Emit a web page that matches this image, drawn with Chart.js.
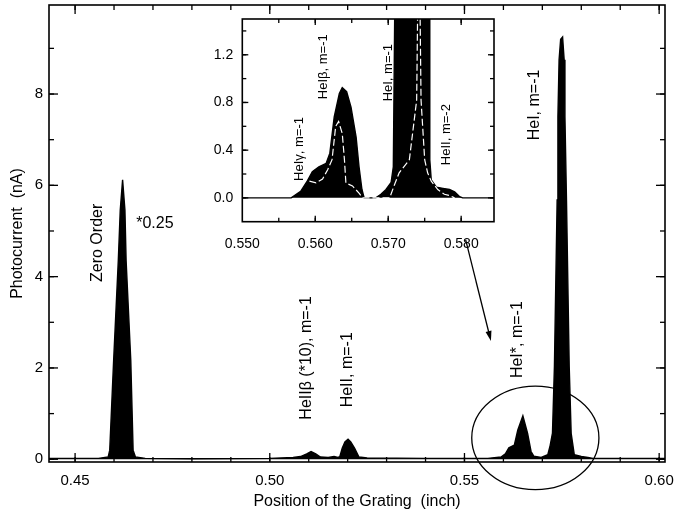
<!DOCTYPE html>
<html>
<head>
<meta charset="utf-8">
<script src="https://cdn.jsdelivr.net/npm/chart.js@4.4.1/dist/chart.umd.min.js"></script>
<style>
  html, body { margin: 0; padding: 0; background: #fff; }
  #wrap { position: relative; width: 681px; height: 518px; }
  #main { position: absolute; left: 0; top: 0; }
  #inset { position: absolute; left: 200px; top: 14px; }
</style>
</head>
<body>
<div id="wrap">
  <canvas id="main" width="681" height="518"></canvas>
  <canvas id="inset" width="300" height="250"></canvas>
</div>
<script>
// main spectrum: grating position (inch) vs photocurrent (nA)
const gratingPos = [0.4433, 0.4500, 0.4560, 0.4585, 0.4589, 0.4599, 0.4611, 0.4616, 0.4622, 0.4628,
  0.4631, 0.4643, 0.4649, 0.4655, 0.4680, 0.4800, 0.5000, 0.5060, 0.5079, 0.5095,
  0.5106, 0.5118, 0.5130, 0.5150, 0.5165, 0.5175, 0.5180, 0.5186, 0.5193, 0.5201,
  0.5208, 0.5218, 0.5229, 0.5250, 0.5400, 0.5560, 0.5594, 0.5605, 0.5614, 0.5628,
  0.5637, 0.5650, 0.5662, 0.5671, 0.5678, 0.5697, 0.5714, 0.5720, 0.5726, 0.5731,
  0.5738, 0.5740, 0.5743, 0.5747, 0.5752, 0.5756, 0.5758, 0.5762, 0.5769, 0.5774,
  0.5782, 0.5800, 0.5817, 0.5830, 0.6015];
const photocurrent = [0.02, 0.02, 0.02, 0.05, 0.2, 2.17, 4.36, 5.46, 6.12, 5.46,
  4.36, 2.17, 0.2, 0.05, 0.02, 0.01, 0.02, 0.04, 0.06, 0.12,
  0.17, 0.12, 0.05, 0.04, 0.06, 0.04, 0.06, 0.24, 0.38, 0.44,
  0.38, 0.24, 0.05, 0.03, 0.02, 0.02, 0.05, 0.12, 0.25, 0.31,
  0.64, 0.95, 0.57, 0.17, 0.07, 0.04, 0.1, 0.3, 0.57, 2.03,
  5.68, 7.51, 8.75, 9.2, 9.25, 8.75, 7.51, 5.68, 2.03, 0.57,
  0.1, 0.06, 0.04, 0.02, 0.02];

// inset: filled trace and the white trace drawn over it
const insetPos = [0.5500, 0.5567, 0.5580, 0.5589, 0.5596, 0.5605, 0.5615, 0.5620, 0.5626, 0.5633,
  0.5637, 0.5643, 0.5649, 0.5656, 0.5660, 0.5664, 0.5667, 0.5683, 0.5690, 0.5697,
  0.5704, 0.5707, 0.5709, 0.5711, 0.5733, 0.5754, 0.5756, 0.5757, 0.5759, 0.5766,
  0.5775, 0.5784, 0.5791, 0.5798, 0.5802, 0.5845];
const insetSignal = [0, 0, 0.055, 0.14, 0.22, 0.26, 0.29, 0.375, 0.68, 0.875,
  0.925, 0.89, 0.76, 0.51, 0.26, 0.07, 0, 0, 0.03, 0.07,
  0.13, 0.26, 1.6, 5.0, 9.25, 5.0, 1.6, 0.32, 0.15, 0.09,
  0.08, 0.07, 0.05, 0.01, 0, 0];
const whitePos = [0.5592, 0.5601, 0.5610, 0.5617, 0.5623, 0.5628, 0.5632, 0.5637, 0.5640, 0.5642,
  0.5651, 0.5660, 0.5665, 0.5702, 0.5708, 0.5715, 0.5729, 0.5739, 0.5742, 0.5745,
  0.5750, 0.5754, 0.5759, 0.5768, 0.5777, 0.5784, 0.5791];
const whiteSignal = [0.14, 0.125, 0.158, 0.236, 0.32, 0.6, 0.64, 0.54, 0.32, 0.125,
  0.1, 0.04, 0, 0, 0.1, 0.21, 0.32, 0.82, 2.5, 0.82,
  0.32, 0.21, 0.14, 0.07, 0.03, 0.02, 0];

const mainXTicks = [0.45, 0.50, 0.55, 0.60];
const mainYTicks = [0, 2, 4, 6, 8];
const insetXTicks = [0.550, 0.560, 0.570, 0.580];
const insetYTicks = [0.0, 0.4, 0.8, 1.2];

const FONT = '"Liberation Sans", Arial, Helvetica, sans-serif';

function pairs(xs, ys) {
  return xs.map((x, i) => ({ x: x, y: ys[i] }));
}

function steps(from, to, step) {
  const out = [];
  const n = Math.round((to - from) / step);
  for (let i = 0; i <= n; i++) out.push(+(from + i * step).toFixed(6));
  return out;
}

// frame around the plot and inward ticks on all four sides
const frameTicks = {
  id: 'frameTicks',
  afterDraw(chart, args, o) {
    const { ctx, chartArea: a, scales: { x, y } } = chart;
    ctx.save();
    ctx.strokeStyle = '#000';
    ctx.lineWidth = 1.3;
    const seg = (x1, y1, x2, y2) => { ctx.beginPath(); ctx.moveTo(x1, y1); ctx.lineTo(x2, y2); ctx.stroke(); };
    const tx = (v, len) => {
      const p = x.getPixelForValue(v);
      if (p < a.left + 1 || p > a.right - 1) return;
      seg(p, a.bottom, p, a.bottom - len);
      seg(p, a.top, p, a.top + len);
    };
    const ty = (v, len) => {
      const p = y.getPixelForValue(v);
      if (p < a.top + 1 || p > a.bottom - 1) return;
      seg(a.left, p, a.left + len, p);
      seg(a.right, p, a.right - len, p);
    };
    o.xMinor.forEach(v => tx(v, o.minor));
    o.yMinor.forEach(v => ty(v, o.minor));
    o.xMajor.forEach(v => tx(v, o.major));
    o.yMajor.forEach(v => ty(v, o.major));
    ctx.lineWidth = 1.6;
    ctx.strokeRect(a.left, a.top, a.right - a.left, a.bottom - a.top);
    ctx.restore();
  }
};

// peak labels, placed in data coordinates
const notes = {
  id: 'notes',
  afterDraw(chart, args, o) {
    const { ctx, scales: { x, y } } = chart;
    ctx.save();
    ctx.fillStyle = '#000';
    ctx.font = o.size + 'px ' + FONT;
    ctx.textAlign = 'center';
    ctx.textBaseline = 'middle';
    o.items.forEach(n => {
      ctx.save();
      ctx.translate(x.getPixelForValue(n.x), y.getPixelForValue(n.y));
      if (n.rot) ctx.rotate(-Math.PI / 2);
      ctx.fillText(n.text, 0, 0);
      ctx.restore();
    });
    ctx.restore();
  }
};

// ellipse round the HeI* / HeI peaks and the arrow from the inset
const marks = {
  id: 'marks',
  afterDraw(chart, args, o) {
    const { ctx, scales: { x, y } } = chart;
    if (!o.ellipse) return;
    ctx.save();
    ctx.strokeStyle = '#000';
    ctx.fillStyle = '#000';
    ctx.lineWidth = 1.3;
    const e = o.ellipse;
    const cx = x.getPixelForValue(e.x), cy = y.getPixelForValue(e.y);
    const rx = Math.abs(x.getPixelForValue(e.x + e.rx) - cx);
    const ry = Math.abs(y.getPixelForValue(e.y + e.ry) - cy);
    ctx.beginPath();
    ctx.ellipse(cx, cy, rx, ry, 0, 0, Math.PI * 2);
    ctx.stroke();

    const ar = o.arrow;
    const x1 = x.getPixelForValue(ar.x1), y1 = y.getPixelForValue(ar.y1);
    const x2 = x.getPixelForValue(ar.x2), y2 = y.getPixelForValue(ar.y2);
    const ang = Math.atan2(y2 - y1, x2 - x1);
    ctx.beginPath();
    ctx.moveTo(x1, y1);
    ctx.lineTo(x2 - 8 * Math.cos(ang), y2 - 8 * Math.sin(ang));
    ctx.stroke();
    ctx.beginPath();
    ctx.moveTo(x2, y2);
    ctx.lineTo(x2 - 10 * Math.cos(ang) + 3 * Math.sin(ang), y2 - 10 * Math.sin(ang) - 3 * Math.cos(ang));
    ctx.lineTo(x2 - 10 * Math.cos(ang) - 3 * Math.sin(ang), y2 - 10 * Math.sin(ang) + 3 * Math.cos(ang));
    ctx.closePath();
    ctx.fill();
    ctx.restore();
  }
};

function axis(opts) {
  const s = {
    type: 'linear',
    min: opts.min,
    max: opts.max,
    grid: { display: false, drawTicks: false },
    border: { display: false },
    afterBuildTicks: sc => { sc.ticks = opts.ticks.map(v => ({ value: v })); },
    afterFit: sc => {
      if (opts.height) sc.height = opts.height;
      if (opts.width) sc.width = opts.width;
      // keep the plot area where the frame sits, whatever the label sizes
      sc.paddingTop = 0; sc.paddingBottom = 0; sc.paddingLeft = 0; sc.paddingRight = 0;
    },
    ticks: {
      padding: opts.pad,
      color: '#000',
      autoSkip: false,
      maxRotation: 0,
      font: { family: FONT, size: opts.size },
      callback: v => v.toFixed(opts.digits)
    }
  };
  if (opts.title) {
    s.title = {
      display: true,
      text: opts.title,
      color: '#000',
      font: { family: FONT, size: 16 },
      padding: opts.titlePad
    };
  }
  return s;
}

new Chart(document.getElementById('main'), {
  type: 'line',
  data: {
    datasets: [{
      data: pairs(gratingPos, photocurrent),
      borderColor: '#000',
      backgroundColor: '#000',
      borderWidth: 1.4,
      pointRadius: 0,
      tension: 0,
      fill: 'origin'
    }]
  },
  options: {
    responsive: false,
    animation: false,
    devicePixelRatio: 1,
    layout: { padding: { top: 5, right: 16, left: 0, bottom: 0 } },
    plugins: {
      legend: { display: false },
      tooltip: { enabled: false },
      frameTicks: {
        xMajor: mainXTicks, yMajor: mainYTicks,
        xMinor: steps(0.45, 0.60, 0.01), yMinor: steps(0, 9, 1),
        major: 9, minor: 5
      },
      notes: {
        size: 16,
        items: [
          { text: 'Zero Order', x: 0.4559, y: 4.74, rot: true },
          { text: '*0.25', x: 0.4705, y: 5.16 },
          { text: 'HeIIβ (*10), m=-1', x: 0.5095, y: 2.22, rot: true },
          { text: 'HeII, m=-1', x: 0.5200, y: 1.96, rot: true },
          { text: 'HeI*, m=-1', x: 0.5636, y: 2.62, rot: true },
          { text: 'HeI, m=-1', x: 0.5680, y: 7.76, rot: true }
        ]
      },
      marks: {
        ellipse: { x: 0.5682, y: 0.467, rx: 0.01633, ry: 1.133 },
        arrow: { x1: 0.5503, y1: 4.81, x2: 0.5568, y2: 2.59 }
      }
    },
    scales: {
      x: axis({ min: 0.4433, max: 0.6015, ticks: mainXTicks, digits: 2, pad: 10, size: 15, height: 56,
        title: 'Position of the Grating  (inch)', titlePad: { top: 0, bottom: 7 } }),
      y: axis({ min: -0.06, max: 9.95, ticks: mainYTicks, digits: 0, pad: 6, size: 15, width: 49,
        title: 'Photocurrent  (nA)', titlePad: { top: 8, bottom: 0 } })
    }
  },
  plugins: [frameTicks, notes, marks]
});

new Chart(document.getElementById('inset'), {
  type: 'line',
  data: {
    datasets: [{
      data: pairs(whitePos, whiteSignal),
      borderColor: '#fff',
      borderWidth: 1.2,
      borderDash: [7, 3],
      pointRadius: 0,
      tension: 0,
      fill: false
    }, {
      data: pairs(insetPos, insetSignal),
      borderColor: '#000',
      backgroundColor: '#000',
      borderWidth: 1.4,
      pointRadius: 0,
      tension: 0,
      fill: 'origin'
    }]
  },
  options: {
    responsive: false,
    animation: false,
    devicePixelRatio: 1,
    layout: { padding: { top: 5, right: 6, left: 0, bottom: 0 } },
    plugins: {
      legend: { display: false },
      tooltip: { enabled: false },
      frameTicks: {
        xMajor: insetXTicks, yMajor: insetYTicks,
        xMinor: steps(0.550, 0.580, 0.005), yMinor: steps(-0.2, 1.4, 0.2),
        major: 6, minor: 4
      },
      notes: {
        size: 13,
        items: [
          { text: 'HeIγ, m=-1', x: 0.5578, y: 0.41, rot: true },
          { text: 'HeIβ, m=-1', x: 0.5611, y: 1.10, rot: true },
          { text: 'HeI, m=-1', x: 0.5700, y: 1.05, rot: true },
          { text: 'HeII, m=-2', x: 0.5780, y: 0.53, rot: true }
        ]
      }
    },
    scales: {
      x: axis({ min: 0.550, max: 0.5845, ticks: insetXTicks, digits: 3, pad: 14, size: 14, height: 42.3 }),
      y: axis({ min: -0.2, max: 1.5, ticks: insetYTicks, digits: 1, pad: 9, size: 14, width: 42.3 })
    }
  },
  plugins: [frameTicks, notes]
});
</script>
</body>
</html>
